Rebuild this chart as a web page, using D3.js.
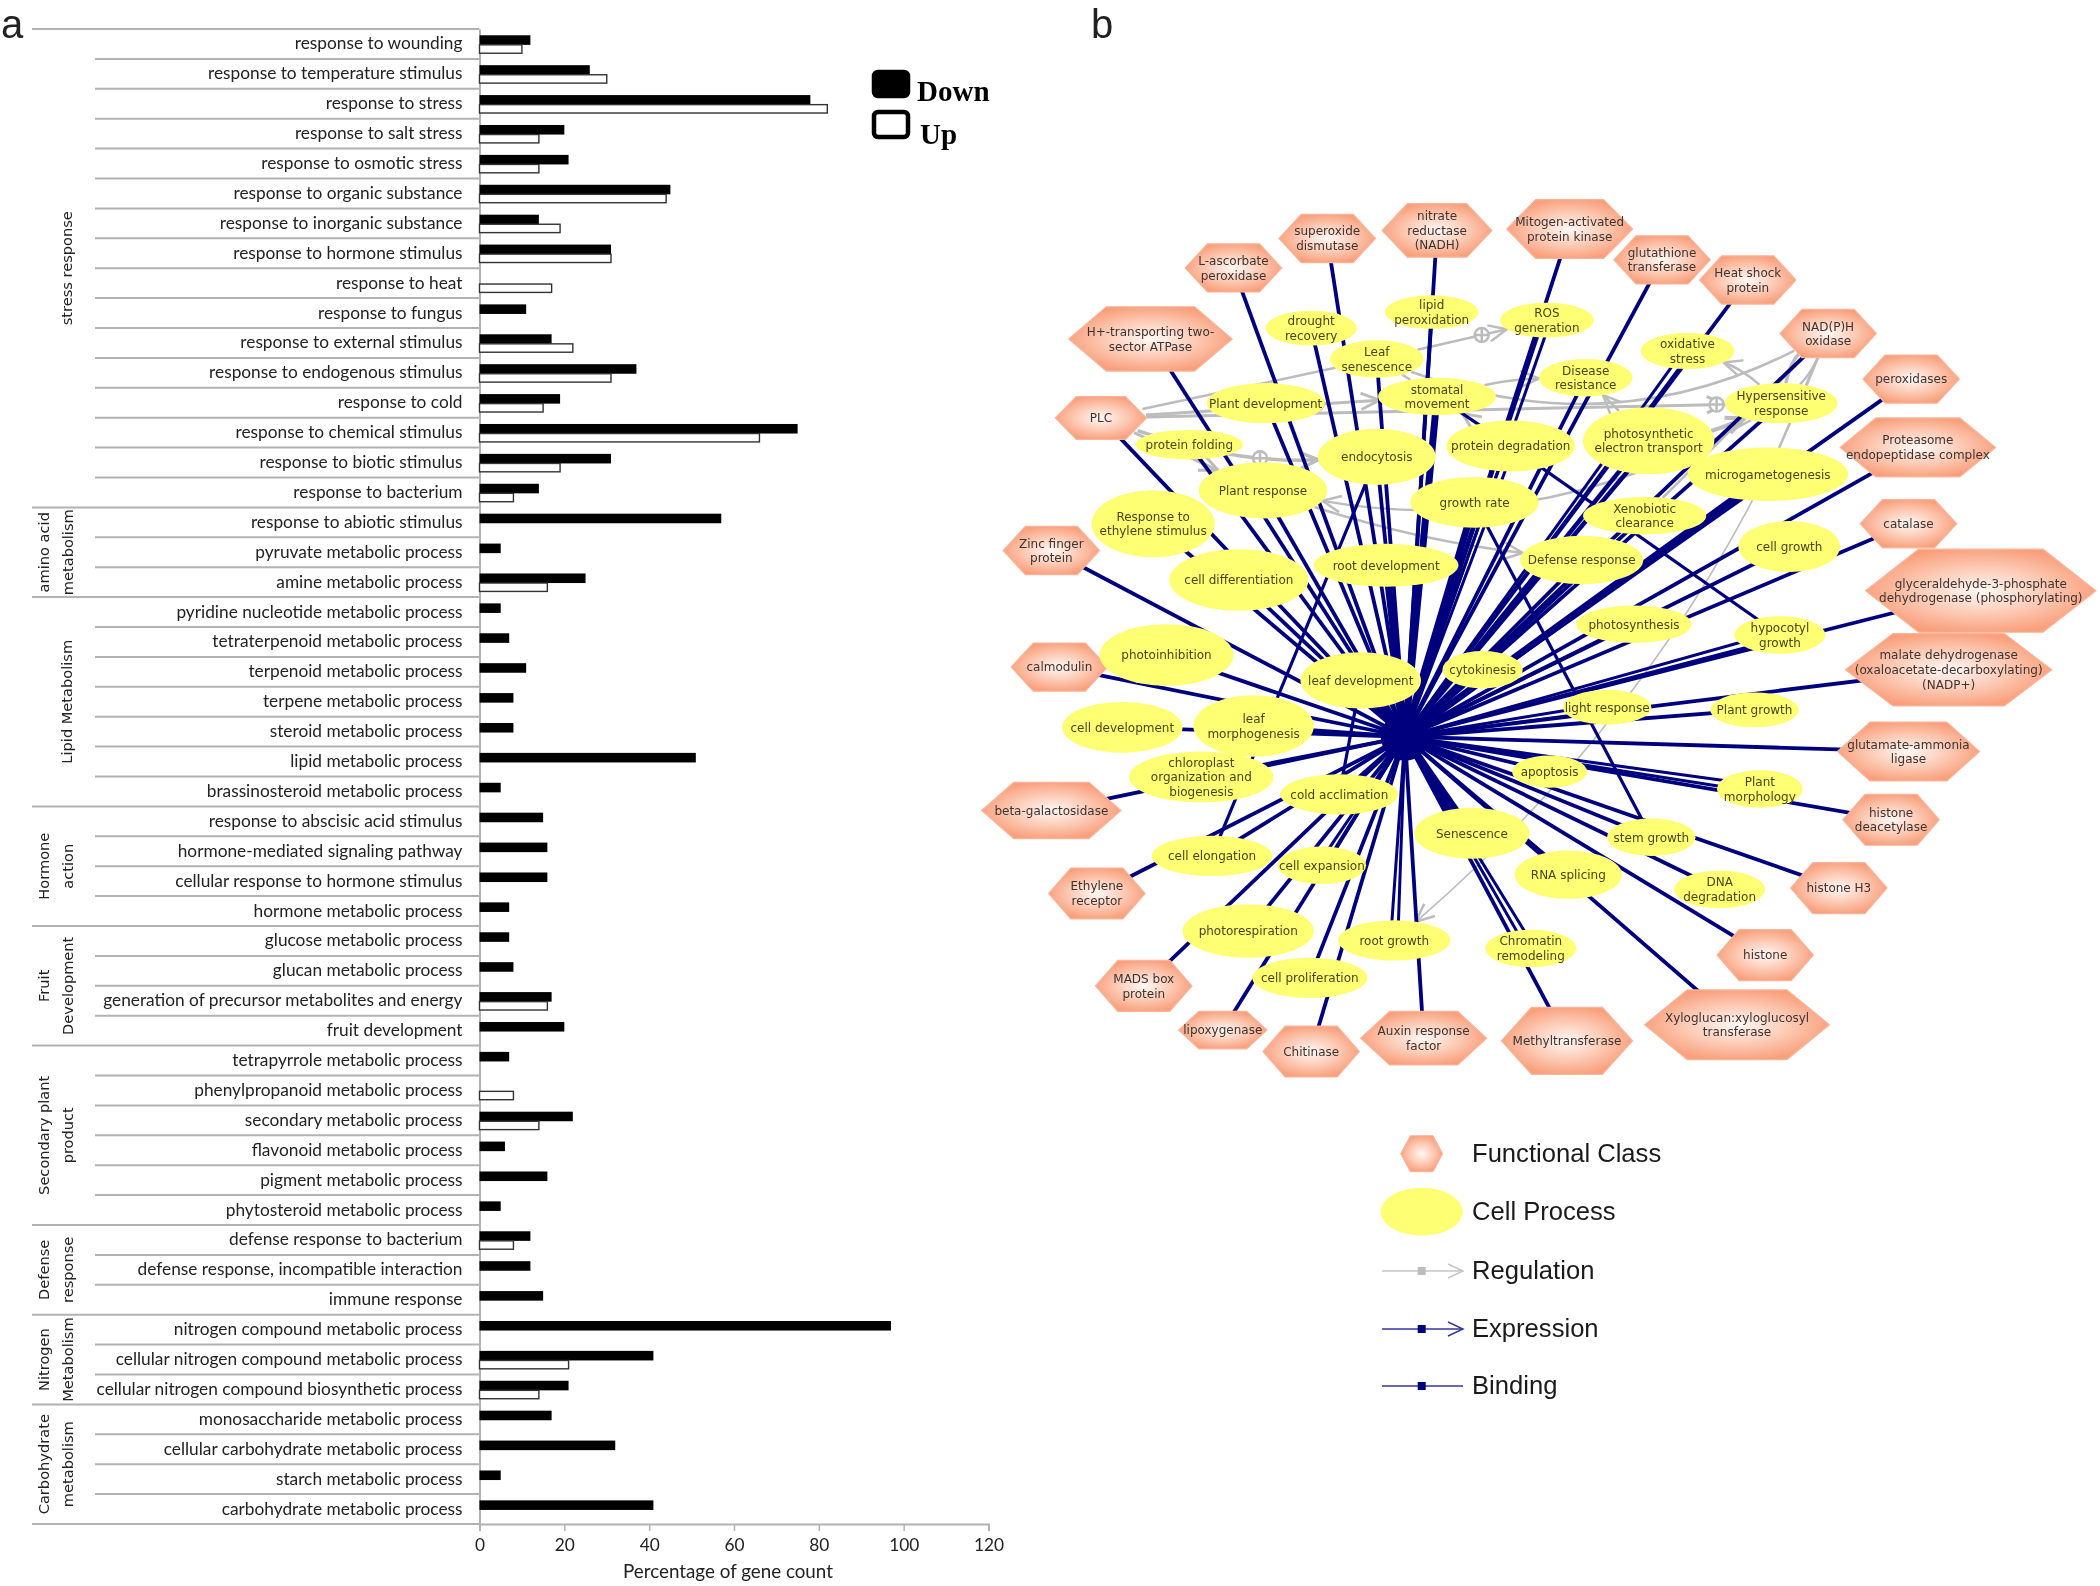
<!DOCTYPE html>
<html><head><meta charset="utf-8">
<script src="https://cdn.jsdelivr.net/npm/d3@7"></script>
<style>html,body{margin:0;padding:0;background:#fff}svg{display:block;filter:blur(.45px)}</style>
</head><body>
<script>
// ---------- panel a data ----------
const categories = ["response to wounding","response to temperature stimulus","response to stress","response to salt stress","response to osmotic stress","response to organic substance","response to inorganic substance","response to hormone stimulus","response to heat","response to fungus","response to external stimulus","response to endogenous stimulus","response to cold","response to chemical stimulus","response to biotic stimulus","response to bacterium","response to abiotic stimulus","pyruvate metabolic process","amine metabolic process","pyridine nucleotide metabolic process","tetraterpenoid metabolic process","terpenoid metabolic process","terpene metabolic process","steroid metabolic process","lipid metabolic process","brassinosteroid metabolic process","response to abscisic acid stimulus","hormone-mediated signaling pathway","cellular response to hormone stimulus","hormone metabolic process","glucose metabolic process","glucan metabolic process","generation of precursor metabolites and energy","fruit development","tetrapyrrole metabolic process","phenylpropanoid metabolic process","secondary metabolic process","flavonoid metabolic process","pigment metabolic process","phytosteroid metabolic process","defense response to bacterium","defense response, incompatible interaction","immune response","nitrogen compound metabolic process","cellular nitrogen compound metabolic process","cellular nitrogen compound biosynthetic process","monosaccharide metabolic process","cellular carbohydrate metabolic process","starch metabolic process","carbohydrate metabolic process"];
const downValues = [12,26,78,20,21,45,14,31,0,11,17,37,19,75,31,14,57,5,25,5,7,11,8,8,51,5,15,16,16,7,7,8,17,20,7,0,22,6,16,5,12,12,15,97,41,21,17,32,5,41];
const upValues = [10,30,82,14,14,44,19,31,17,0,22,31,15,66,19,8,0,0,16,0,0,0,0,0,0,0,0,0,0,0,0,0,16,0,0,8,14,0,0,0,8,0,0,0,21,14,0,0,0,0];
const groupNames = [["stress response"],["amino acid","metabolism"],["Lipid Metabolism"],["Hormone","action"],["Fruit","Development"],["Secondary plant","product"],["Defense","response"],["Nitrogen","Metabolism"],["Carbohydrate","metabolism"]];
const groupSizes = [16,3,7,4,4,6,3,3,4];
const xTicks = [0,20,40,60,80,100,120];
const seriesNames = ["Down","Up"];

const classNames = ["L-ascorbate|peroxidase","superoxide|dismutase","nitrate|reductase|(NADH)","Mitogen-activated|protein kinase","glutathione|transferase","Heat shock|protein","H+-transporting two-|sector ATPase","NAD(P)H|oxidase","peroxidases","PLC","Proteasome|endopeptidase complex","Zinc finger|protein","catalase","glyceraldehyde-3-phosphate|dehydrogenase (phosphorylating)","calmodulin","malate dehydrogenase|(oxaloacetate-decarboxylating)|(NADP+)","glutamate-ammonia|ligase","beta-galactosidase","histone|deacetylase","histone H3","Ethylene|receptor","histone","MADS box|protein","lipoxygenase","Chitinase","Auxin response|factor","Methyltransferase","Xyloglucan:xyloglucosyl|transferase"];
const classX = [921,991,1073,1172,1241,1305,859,1365,1427,822,1432,785,1425,1479,791,1455,1425,785,1412,1373,819,1318,854,913,979,1063,1170,1297];
const classY = [200,178,172,171,194,209,253,249,283,312,334,411,391,441,498,500,561,605,612,663,667,713,736,769,785,775,777,765];
const classRx = [36,36,41,47,36,36,61,36,36,34,58,36,36,86,36,77,53,52,36,36,36,36,36,33,36,47,49,69];
const classRy = [18,18,20,22,18,18,24,18,18,16,22,18,18,31,18,27,22,21,19,19,19,19,19,14,19,20,25,26];
const processNames = ["drought|recovery","lipid|peroxidation","ROS|generation","oxidative|stress","Leaf|senescence","Disease|resistance","Plant development","stomatal|movement","Hypersensitive|response","protein folding","endocytosis","protein degradation","photosynthetic|electron transport","microgametogenesis","Plant response","Response to|ethylene stimulus","growth rate","Xenobiotic|clearance","Defense response","cell growth","cell differentiation","root development","photosynthesis","hypocotyl|growth","photoinhibition","leaf development","cytokinesis","leaf|morphogenesis","cell development","light response","Plant growth","chloroplast|organization and|biogenesis","apoptosis","cold acclimation","Plant|morphology","Senescence","stem growth","cell elongation","RNA splicing","cell expansion","DNA|degradation","photorespiration","root growth","Chromatin|remodeling","cell proliferation"];
const processX = [979,1069,1155,1260,1028,1184,945,1073,1330,888,1028,1128,1231,1320,943,861,1101,1228,1181,1336,925,1035,1220,1329,871,1016,1107,936,838,1200,1310,897,1157,1000,1314,1099,1233,905,1171,987,1284,932,1041,1143,978];
const processY = [245,233,239,262,268,282,301,296,301,332,341,333,329,354,366,391,375,385,418,408,433,422,466,474,489,508,500,542,543,528,530,580,576,593,589,622,625,639,653,646,664,695,702,708,730];
const processRx = [34,35,35,35,35,35,44,44,42,40,44,48,49,60,48,46,48,46,46,38,52,54,43,34,50,45,30,45,45,33,33,54,28,44,32,43,33,45,40,33,34,49,42,34,43];
const processRy = [13,12.5,13,13.5,14,14,15,14,15,11,21,19,25,20,21,25,19,14,18,19,23,16,14,14,23,21,14,23,19,13,13,19,12,15,14,19,14,15,18,14,14,20,15,14,15];
const hubX = 1049, hubY = 550, hubR = 18;
const doubleLinks = ["ROS|generation","oxidative|stress","hypocotyl|growth","Chromatin|remodeling","Plant|morphology","light response","photosynthetic|electron transport","root growth","cell expansion","protein degradation"];
const heavyLinks = ["growth rate","stomatal|movement","photosynthetic|electron transport","microgametogenesis","Senescence","root development"];
const extraLinks = [["protein degradation","hypocotyl|growth"],["growth rate","stem growth"],["endocytosis","cell elongation"],["leaf development","cold acclimation"],["stomatal|movement","protein degradation"]];
// source, target, bend, weight, arrow, position of the modifier circle along the link (or null)
const regulationLinks = [
 ["PLC","Hypersensitive|response",0,3,1,.985],
 ["PLC","stomatal|movement",0,3,1,.72],
 ["PLC","Leaf|senescence",0,2.5,0,null],
 ["Leaf|senescence","ROS|generation",0,2.5,1,.72],
 ["Leaf|senescence","stomatal|movement",0,2.5,0,null],
 ["NAD(P)H|oxidase","Leaf|senescence",-37,2.5,0,null],
 ["stomatal|movement","Disease|resistance",-3,2.5,1,null],
 ["photosynthetic|electron transport","Disease|resistance",0,2.5,1,null],
 ["protein degradation","stomatal|movement",0,3,1,null],
 ["PLC","endocytosis",10,3.5,1,.66],
 ["PLC","Plant response",0,3,1,null],
 ["Hypersensitive|response","Plant response",-35,2.5,1,null],
 ["Plant response","Defense response",6,2.5,1,null],
 ["NAD(P)H|oxidase","Hypersensitive|response",6,3.5,0,null],
 ["NAD(P)H|oxidase","Hypersensitive|response",-3,2.5,0,null],
 ["NAD(P)H|oxidase","Xenobiotic|clearance",0,2.5,0,null],
 ["NAD(P)H|oxidase","microgametogenesis",0,2.5,0,null],
 ["NAD(P)H|oxidase","root growth",-34,1.6,1,null],
 ["Hypersensitive|response","oxidative|stress",4,2.5,1,null],
 ["photosynthetic|electron transport","Hypersensitive|response",3,4,1,null]
];
const mapLegendNames = ["Functional Class","Cell Process","Regulation","Expression","Binding"];

// ---------- drawing ----------
const W = 2100, H = 1586;
const svg = d3.select("body").append("svg").attr("width",W).attr("height",H).attr("viewBox",`0 0 ${W} ${H}`);
svg.append("rect").attr("width",W).attr("height",H).attr("fill","#fff");
const GREY = "#b2b2b2", NAVY = "#00007f", LBL = "Lato, Carlito, sans-serif", PANEL = "Liberation Sans, Arial, sans-serif";

svg.append("text").attr("x",1).attr("y",38).attr("font-family",PANEL).attr("font-size",40).attr("fill","#222").text("a");
svg.append("text").attr("x",1091).attr("y",38).attr("font-family",PANEL).attr("font-size",40).attr("fill","#222").text("b");

// ---- panel a ----
const x = d3.scaleLinear().domain([0,120]).range([479.5,988.5]);
const y = d3.scaleBand().domain(categories).range([29,1524]);
const chart = svg.append("g");

// separators
const groupStart = d3.cumsum([0].concat(groupSizes));
categories.forEach((c,i)=>{
  const isGroup = groupStart.includes(i);
  chart.append("line").attr("x1",isGroup?32:95).attr("x2",x(0))
    .attr("y1",y(c)).attr("y2",y(c)).attr("stroke",GREY).attr("stroke-width",2);
});
chart.append("line").attr("x1",32).attr("x2",x(0)).attr("y1",y.range()[1]).attr("y2",y.range()[1]).attr("stroke",GREY).attr("stroke-width",2);

const yAxis = chart.append("g").attr("transform",`translate(${x(0)},0)`)
  .call(d3.axisLeft(y).tickSize(0).tickPadding(17));
yAxis.select(".domain").attr("stroke",GREY).attr("stroke-width",2);
yAxis.selectAll("text").attr("font-family",LBL).attr("font-size",17.3).attr("fill","#222");

const xAxis = chart.append("g").attr("transform",`translate(0,${y.range()[1]})`)
  .call(d3.axisBottom(x).tickValues(xTicks).tickSize(7).tickPadding(8).tickFormat(d3.format("d")));
xAxis.select(".domain").attr("stroke",GREY).attr("stroke-width",2);
xAxis.selectAll(".tick line").attr("stroke",GREY).attr("stroke-width",1.5);
xAxis.selectAll("text").attr("font-family",LBL).attr("font-size",17.3).attr("fill","#222");
chart.append("text").attr("x",728).attr("y",1578).attr("text-anchor","middle")
  .attr("font-family",LBL).attr("font-size",18.8).attr("fill","#222").text("Percentage of gene count");

// bars
const bw = y.bandwidth();
chart.append("g").selectAll("rect").data(categories.filter((c,i)=>downValues[i]>0)).join("rect")
  .attr("x",x(0)).attr("y",c=>y(c)+bw*.21).attr("height",bw*.32)
  .attr("width",c=>x(downValues[categories.indexOf(c)])-x(0)).attr("fill","#000");
chart.append("g").selectAll("rect").data(categories.filter((c,i)=>upValues[i]>0)).join("rect")
  .attr("x",x(0)).attr("y",c=>y(c)+bw*.53).attr("height",bw*.28)
  .attr("width",c=>x(upValues[categories.indexOf(c)])-x(0)).attr("fill","#fff").attr("stroke","#333").attr("stroke-width",1.4);

// group labels
groupNames.forEach((lines,g)=>{
  const c = (y.range()[0]+groupStart[g]*bw + y.range()[0]+groupStart[g+1]*bw)/2;
  lines.forEach((ln,k)=>{
    const tx = lines.length===1 ? 67 : (k===0?44:68);
    chart.append("text").attr("transform",`translate(${tx},${c}) rotate(-90)`)
      .attr("text-anchor","middle").attr("dy",".36em")
      .attr("font-family","DejaVu Sans, Verdana, sans-serif").attr("font-size",14.6).attr("fill","#222").text(ln);
  });
});

// legend of panel a
seriesNames.forEach((n,i)=>{
  const yy = [72,112][i];
  chart.append("rect").attr("x",874).attr("y",yy).attr("width",34).attr("height",i?25:24).attr("rx",4)
    .attr("fill",i?"#fff":"#000").attr("stroke","#000").attr("stroke-width",4.5);
  chart.append("text").attr("x",[917,920][i]).attr("y",[101,144][i])
    .attr("font-family","Liberation Serif, Times New Roman, serif").attr("font-weight","bold")
    .attr("font-size",29).attr("fill","#000").text(n);
});

// ---- panel b ----
const netX = d3.scaleLinear().domain([0,1568]).range([0,W]);
const netY = d3.scaleLinear().domain([0,1184]).range([0,H]);
const scaleR = netX(1)-netX(0);
const defs = svg.append("defs");
const grad = defs.append("radialGradient").attr("id","classFill").attr("cx","50%").attr("cy","50%").attr("r","52%");
grad.append("stop").attr("offset","0%").attr("stop-color","#fff8f5");
grad.append("stop").attr("offset","55%").attr("stop-color","#fcc9b3");
grad.append("stop").attr("offset","100%").attr("stop-color","#f99f7b");

const nodes = new Map();
classNames.forEach((n,i)=>nodes.set(n,{name:n,kind:"class",x:netX(classX[i]),y:netY(classY[i]),rx:classRx[i]*scaleR,ry:classRy[i]*scaleR}));
processNames.forEach((n,i)=>nodes.set(n,{name:n,kind:"process",x:netX(processX[i]),y:netY(processY[i]),rx:processRx[i]*scaleR,ry:processRy[i]*scaleR}));
const hub = {x:netX(hubX),y:netY(hubY)};
const net = svg.append("g");

function hexPoints(rx,ry){const t=rx*.54;return [[-rx,0],[-t,-ry],[t,-ry],[rx,0],[t,ry],[-t,ry]];}
function boundary(n,from){ // point on the node's edge, coming from a given point
  const dx=from.x-n.x, dy=from.y-n.y, k=1/Math.sqrt(dx*dx/(n.rx*n.rx)+dy*dy/(n.ry*n.ry));
  return {x:n.x+dx*k,y:n.y+dy*k};
}

// regulation links
const regLayer = net.append("g").attr("fill","none").attr("stroke","#bcbcbc");
regulationLinks.forEach(([s,t,bend,w,arrow,mod])=>{
  const a=nodes.get(s), b=nodes.get(t);
  const mx=(a.x+b.x)/2, my=(a.y+b.y)/2, dx=b.x-a.x, dy=b.y-a.y, L=Math.hypot(dx,dy);
  const c={x:mx-dy/L*bend*scaleR*2,y:my+dx/L*bend*scaleR*2};
  const start=boundary(a,c), end=boundary(b,c);
  const p=d3.path(); p.moveTo(start.x,start.y); p.quadraticCurveTo(c.x,c.y,end.x,end.y);
  regLayer.append("path").attr("d",p.toString()).attr("stroke-width",w);
  if(arrow){
    const ang=Math.atan2(end.y-c.y,end.x-c.x), len=20, sp=.42;
    const q=d3.path();
    q.moveTo(end.x-len*Math.cos(ang-sp),end.y-len*Math.sin(ang-sp));
    q.lineTo(end.x,end.y);
    q.lineTo(end.x-len*Math.cos(ang+sp),end.y-len*Math.sin(ang+sp));
    regLayer.append("path").attr("d",q.toString()).attr("stroke-width",Math.max(2.5,w));
  }
  if(mod!==null){
    const u=mod,v=1-mod, px=v*v*start.x+2*u*v*c.x+u*u*end.x, py=v*v*start.y+2*u*v*c.y+u*u*end.y;
    const g=regLayer.append("g").attr("transform",`translate(${px},${py})`).attr("stroke-width",2.5);
    g.append("circle").attr("r",7).attr("fill","#fff");
    g.append("path").attr("d","M-7,0H7M0,-7V7");
  }
});

// expression / binding links from the hub
const linkLayer = net.append("g").attr("stroke",NAVY).attr("fill","none");
nodes.forEach((n,k)=>{
  const heavy=heavyLinks.includes(k), w=heavy?7:3.8;
  if(doubleLinks.includes(k)){
    const dx=n.x-hub.x, dy=n.y-hub.y, L=Math.hypot(dx,dy), ox=-dy/L*3.6, oy=dx/L*3.6;
    [[1],[-1]].forEach(([s])=>linkLayer.append("line").attr("x1",hub.x).attr("y1",hub.y)
      .attr("x2",n.x+s*ox).attr("y2",n.y+s*oy).attr("stroke-width",heavy?4.5:3));
  } else {
    linkLayer.append("line").attr("x1",hub.x).attr("y1",hub.y).attr("x2",n.x).attr("y2",n.y).attr("stroke-width",w);
  }
});
extraLinks.forEach(([s,t])=>{
  const a=nodes.get(s), b=nodes.get(t);
  linkLayer.append("line").attr("x1",a.x).attr("y1",a.y).attr("x2",b.x).attr("y2",b.y).attr("stroke-width",3.2);
});
net.append("circle").attr("cx",hub.x).attr("cy",hub.y).attr("r",hubR*scaleR).attr("fill",NAVY);

// node shapes and labels
const nodeLayer = net.append("g");
nodes.forEach(n=>{
  const g=nodeLayer.append("g").attr("transform",`translate(${n.x},${n.y})`);
  if(n.kind==="class"){
    g.append("polygon").attr("points",hexPoints(n.rx,n.ry).join(" "))
      .attr("fill","url(#classFill)").attr("stroke","#f9b59b").attr("stroke-width",1.2);
  } else {
    g.append("ellipse").attr("rx",n.rx).attr("ry",n.ry).attr("fill","#ffff73");
  }
  const lines=n.name.split("|");
  lines.forEach((ln,i)=>g.append("text").attr("text-anchor","middle")
    .attr("y",(i-(lines.length-1)/2)*14.6).attr("dy",".36em")
    .attr("font-family","DejaVu Sans, Verdana, sans-serif").attr("font-size",12)
    .attr("fill",n.kind==="class"?"#3c3434":"#46461a").text(ln));
});

// legend of panel b
const lg = svg.append("g");
const lgHexX=1421.7;
lg.append("polygon").attr("points",hexPoints(21,18).map(p=>[p[0]+lgHexX,p[1]+1153.7]).join(" "))
  .attr("fill","url(#classFill)").attr("stroke","#f9b59b");
lg.append("ellipse").attr("cx",lgHexX).attr("cy",1211.7).attr("rx",41).attr("ry",24).attr("fill","#ffff73");
[[1271,"#c4c4c4","#bdbdbd",1],[1329,"#34349a",NAVY,1],[1386,"#34349a",NAVY,0]].forEach(([yy,ln,sq,ar])=>{
  lg.append("line").attr("x1",1382).attr("x2",1463).attr("y1",yy).attr("y2",yy).attr("stroke",ln).attr("stroke-width",1.6);
  lg.append("rect").attr("x",lgHexX-4).attr("y",yy-4).attr("width",8).attr("height",8).attr("fill",sq);
  if(ar) lg.append("path").attr("d",`M1448,${yy-7}L1463,${yy}L1448,${yy+7}`).attr("fill","none").attr("stroke",ln).attr("stroke-width",1.4);
});
mapLegendNames.forEach((n,i)=>{
  lg.append("text").attr("x",1472).attr("y",[1162,1220,1279,1337,1394][i])
    .attr("font-family","Liberation Sans, Arial, sans-serif").attr("font-size",25.6).attr("fill","#1a1a1a").text(n);
});
</script>
</body></html>
